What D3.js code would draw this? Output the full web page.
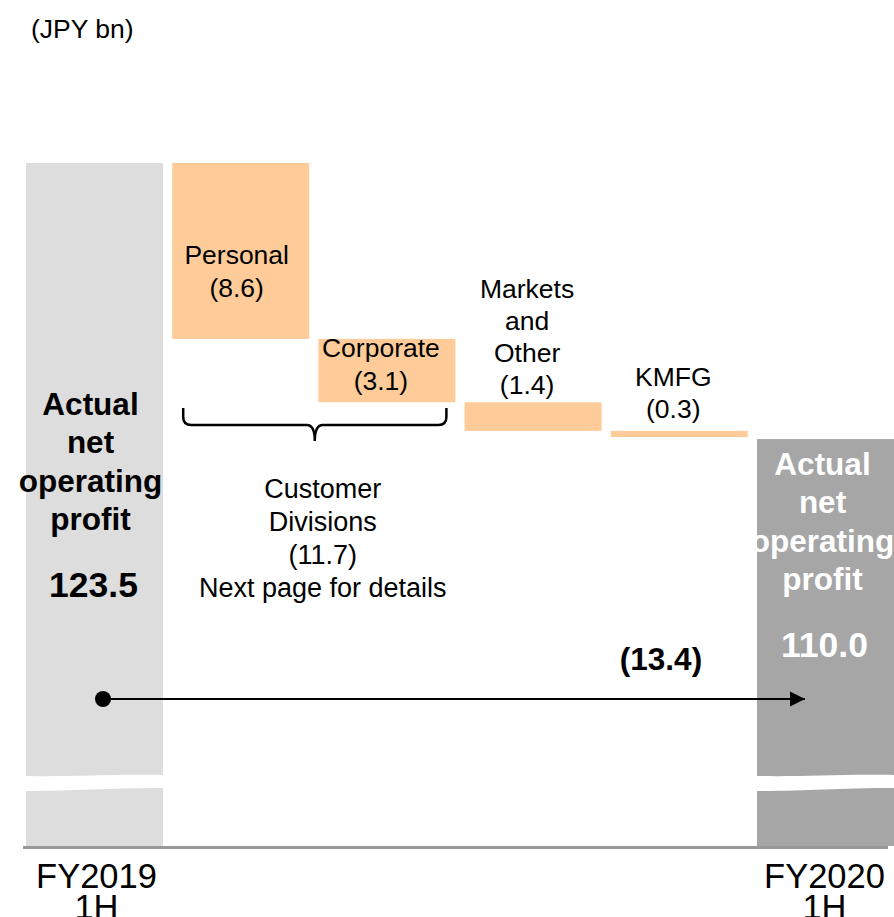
<html>
<head>
<title>Actual net operating profit bridge</title>
<style>
body { margin: 0; background: #fff; }
svg text { font-family: "Liberation Sans", Arial, sans-serif; }
</style>
<script src="https://d3js.org/d3.v7.min.js"></script>
</head>
<body>
<div id="chart"></div>
<script>
// data
var categories = ["FY2019 1H", "Personal", "Corporate", "Markets and Other", "KMFG", "FY2020 1H"];
var kinds = ["total", "delta", "delta", "delta", "delta", "total"];
var values = [123.5, -8.6, -3.1, -1.4, -0.3, 110.0];
var valueLabels = ["123.5", "(8.6)", "(3.1)", "(1.4)", "(0.3)", "110.0"];
var customerLabel = ["Customer", "Divisions", "(11.7)", "Next page for details"];
var totalChange = "(13.4)";
var unitLabel = "(JPY bn)";

var width = 894, height = 917;
var baseY = 846;          // visual bottom of the bars
var axisFloor = 90.1;     // value shown at the baseline (axis is broken)

var svg = d3.select("#chart").append("svg")
    .attr("width", width)
    .attr("height", height);

var x = d3.scaleBand()
    .domain(categories)
    .range([21.4, 898.6])
    .paddingInner(0.063)
    .paddingOuter(0.0315);

var y = d3.scaleLinear()
    .domain([axisFloor, values[0]])
    .range([baseY, 163]);

// build waterfall steps
var running = 0;
var bars = categories.map(function(c, i) {
  var b;
  if (kinds[i] == "total") {
    b = {cat: c, lo: axisFloor, hi: values[i], kind: "total", i: i};
    running = values[i];
  } else {
    b = {cat: c, lo: running + values[i], hi: running, kind: "delta", i: i};
    running = running + values[i];
  }
  return b;
});

var fillFor = function(d) {
  if (d.kind == "delta") return "#ffcc99";
  return d.i == 0 ? "#dddddd" : "#a6a6a6";
};

svg.selectAll("rect.bar")
    .data(bars)
    .enter()
    .append("rect")
    .attr("class", "bar")
    .attr("x", function(d) { return x(d.cat); })
    .attr("width", x.bandwidth())
    .attr("y", function(d) { return y(d.hi); })
    .attr("height", function(d) { return Math.max(1, y(d.lo) - y(d.hi)); })
    .attr("fill", fillFor);

// axis break (white wavy band on the total bars)
bars.filter(function(d) { return d.kind == "total"; }).forEach(function(d) {
  var x0 = x(d.cat), x1 = x0 + x.bandwidth(), xm = (x0 + x1) / 2;
  var p = "M" + x0 + ",776 C" + (xm - 20) + ",777 " + (xm + 10) + ",774 " + x1 + ",775" +
          " L" + x1 + ",788 C" + (xm + 10) + ",788 " + (xm - 20) + ",791 " + x0 + ",791 Z";
  svg.append("path").attr("d", p).attr("fill", "#fff");
});

// baseline
svg.append("line")
    .attr("x1", 23).attr("x2", 888)
    .attr("y1", 847.5).attr("y2", 847.5)
    .attr("stroke", "#999999")
    .attr("stroke-width", 3);

// multi-line text helper
function lines(g, arr, cx, cy0, lh, size, weight, color) {
  var t = g.append("text")
      .attr("text-anchor", "middle")
      .attr("font-size", size + "px")
      .attr("font-weight", weight)
      .attr("fill", color);
  arr.forEach(function(s, k) {
    t.append("tspan")
        .attr("x", cx)
        .attr("y", cy0 + k * lh)
        .attr("dominant-baseline", "central")
        .text(s);
  });
  return t;
}

var cx = function(i) { return x(categories[i]) + x.bandwidth() / 2; };

// unit
svg.append("text")
    .attr("x", 31).attr("y", 38)
    .attr("font-size", "26.5px")
    .text(unitLabel);

// total bar labels
lines(svg, ["Actual", "net", "operating", "profit"], cx(0) - 4, 404, 38.3, 31.5, "bold", "#000");
lines(svg, [valueLabels[0]], cx(0) - 1, 585, 0, 35.5, "bold", "#000");
lines(svg, ["Actual", "net", "operating", "profit"], cx(5) - 3, 464, 38.3, 31.5, "bold", "#fff");
lines(svg, [valueLabels[5]], cx(5) - 1, 645, 0, 35.5, "bold", "#fff");

// delta labels
lines(svg, ["Personal", valueLabels[1]], cx(1) - 4, y(bars[1].hi) + 92, 33, 26.5, "normal", "#000");
lines(svg, ["Corporate", valueLabels[2]], cx(2) - 6, y(bars[2].hi) + 9, 33, 26.5, "normal", "#000");
lines(svg, ["Markets", "and", "Other", valueLabels[3]], cx(3) - 6, y(bars[3].hi) - 113, 32, 26.5, "normal", "#000");
lines(svg, ["KMFG", valueLabels[4]], cx(4) - 6, y(bars[4].hi) - 54, 32, 26.5, "normal", "#000");

// brace under customer divisions
var bx0 = x(categories[1]) + 11, bx1 = x(categories[2]) + x.bandwidth() - 9;
var bm = (bx0 + bx1) / 2, by = 425, r = 8;
svg.append("path")
    .attr("d", "M" + bx0 + ",408 L" + bx0 + "," + (by - r) +
               " Q" + bx0 + "," + by + " " + (bx0 + r) + "," + by +
               " L" + (bm - r) + "," + by +
               " Q" + bm + "," + by + " " + bm + ",441" +
               " Q" + bm + "," + by + " " + (bm + r) + "," + by +
               " L" + (bx1 - r) + "," + by +
               " Q" + bx1 + "," + by + " " + bx1 + "," + (by - r) +
               " L" + bx1 + ",408")
    .attr("fill", "none")
    .attr("stroke", "#000")
    .attr("stroke-width", 2.5);

lines(svg, customerLabel, bm + 8, 489, 33, 27, "normal", "#000");

// total change arrow
svg.append("defs").append("marker")
    .attr("id", "arr")
    .attr("viewBox", "0 0 10 10")
    .attr("refX", 10).attr("refY", 5)
    .attr("markerWidth", 15).attr("markerHeight", 16)
    .attr("markerUnits", "userSpaceOnUse")
    .attr("orient", "auto")
    .append("path")
    .attr("d", "M0,0 L10,5 L0,10 Z")
    .attr("fill", "#000");

svg.append("line")
    .attr("x1", 103).attr("x2", 805)
    .attr("y1", 699).attr("y2", 699)
    .attr("stroke", "#000")
    .attr("stroke-width", 2)
    .attr("marker-end", "url(#arr)");
svg.append("circle")
    .attr("cx", 103).attr("cy", 699).attr("r", 8)
    .attr("fill", "#000");

lines(svg, [totalChange], 661, 659, 0, 31.5, "bold", "#000");

// category labels
lines(svg, ["FY2019", "1H"], cx(0) + 2, 876, 31, 34.5, "normal", "#000");
lines(svg, ["FY2020", "1H"], cx(5) - 1, 876, 31, 34.5, "normal", "#000");
</script>
</body>
</html>
